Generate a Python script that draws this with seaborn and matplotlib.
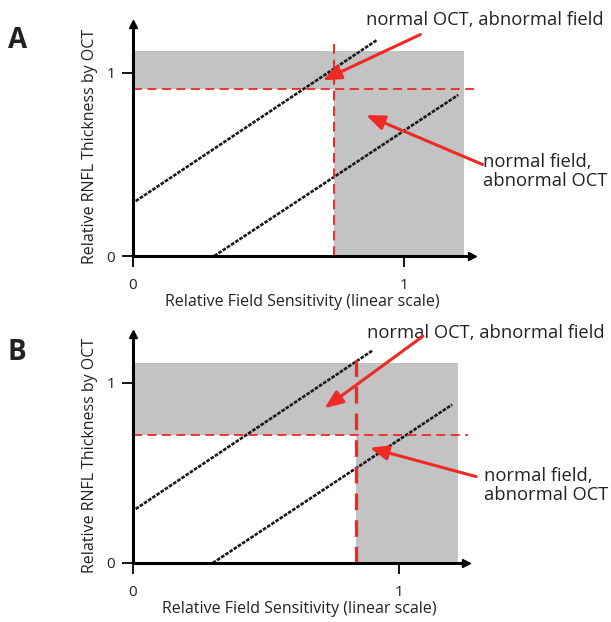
import numpy as np
import pandas as pd
import matplotlib
matplotlib.use("Agg")
import matplotlib.pyplot as plt
import seaborn as sns

sns.set_style("white")
plt.rcParams['font.family'] = ['Open Sans', 'DejaVu Sans']

# chart data
panels = ["A", "B"]
field_cutoff = [0.74, 0.84]     # vertical red dashed line
oct_cutoff = [0.91, 0.71]       # horizontal red dashed line
box_top = [1.12, 1.11]
box_right = [1.22, 1.22]
upper_x = [0.01, 0.90]
upper_y = [0.30, 1.18]
lower_x = [0.30, 1.20]
lower_y = [0.00, 0.88]
ticks = [0, 1]
label_oct = "normal OCT, abnormal field"
label_field = "normal field,\nabnormal OCT"

# annotation arrows (tail -> head) per panel
oct_arrow = [((1.06, 1.21), (0.70, 0.96)), ((1.09, 1.26), (0.72, 0.86))]
field_arrow = [((1.29, 0.50), (0.86, 0.77)), ((1.29, 0.48), (0.89, 0.64))]
oct_text_pos = [(0.86, 1.29), (0.88, 1.28)]
field_text_pos = [(1.29, 0.46), (1.32, 0.43)]
vline_lw = [1.4, 2.4]

RED = "#ee2a24"
GRAY = "#c3c3c3"
TXT = "#222222"

fig = plt.figure(figsize=(6.11, 6.22), dpi=100)
W, H = 611, 622
# axes placement in pixels: (x0 pixel, px per x unit, y0 pixel from top, px per y unit)
geom = [(133, 271, 256, 183), (133, 266, 563, 180)]
xlim = (-0.05, 1.3)
ylim = (-0.1, 1.3)

for i, name in enumerate(panels):
    x0, sx, y0, sy = geom[i]
    left = (x0 + xlim[0] * sx) / W
    width = (xlim[1] - xlim[0]) * sx / W
    bottom = (H - (y0 - ylim[0] * sy)) / H
    height = (ylim[1] - ylim[0]) * sy / H
    ax = fig.add_axes([left, bottom, width, height])
    ax.set_xlim(*xlim)
    ax.set_ylim(*ylim)

    fc, oc, bt, br = field_cutoff[i], oct_cutoff[i], box_top[i], box_right[i]
    # shaded "normal" areas
    ax.fill_between([0, br], [oc, oc], [bt, bt], color=GRAY, lw=0, zorder=0)
    ax.fill_between([fc, br], [0, 0], [oc, oc], color=GRAY, lw=0, zorder=0)

    df = pd.DataFrame({"x": upper_x + lower_x, "y": upper_y + lower_y,
                       "line": ["upper"] * 2 + ["lower"] * 2})
    sns.lineplot(data=df, x="x", y="y", units="line", estimator=None, ax=ax,
                 color="#1a1a1a", lw=1.9, linestyle=(0, (1.4, 0.5)), zorder=3)

    ax.plot([0, 1.26], [oc, oc], color=RED, lw=1.3, ls=(0, (5, 3)), zorder=4)
    ax.plot([fc, fc], [0, 1.18], color=RED, lw=vline_lw[i], ls=(0, (5, 3)), zorder=4)

    for spine in ["top", "right"]:
        ax.spines[spine].set_visible(False)
    for spine in ["left", "bottom"]:
        ax.spines[spine].set_position(("data", 0))
        ax.spines[spine].set_color("black")
        ax.spines[spine].set_linewidth(2.2)
        ax.spines[spine].set_zorder(5)
    ax.spines["left"].set_bounds(0, 1.25)
    ax.spines["bottom"].set_bounds(0, 1.24)
    ax.plot(1.25, 0, ">", color="black", ms=6, clip_on=False, zorder=6)
    ax.plot(0, 1.27, "^", color="black", ms=6, clip_on=False, zorder=6)

    ax.set_xticks(ticks)
    ax.set_yticks(ticks)
    ax.tick_params(axis="both", direction="out", length=8, width=1.3,
                   colors="black", labelsize=11, labelcolor=TXT)
    ax.tick_params(axis="x", pad=8, bottom=True)
    ax.tick_params(axis="y", pad=5, left=True)
    ax.set_xlabel("Relative Field Sensitivity (linear scale)", fontsize=11.5,
                  color=TXT)
    ax.set_ylabel("Relative RNFL Thickness by OCT", fontsize=11.5,
                  color=TXT, labelpad=6)
    ax.xaxis.set_label_coords(0.5, (0 - ylim[0]) / (ylim[1] - ylim[0]) - 0.15)

    (tx, ty), (hx, hy) = oct_arrow[i]
    ax.annotate("", xy=(hx, hy), xytext=(tx, ty),
                arrowprops=dict(arrowstyle="-|>,head_length=0.55,head_width=0.22",
                                color=RED, lw=2.2, mutation_scale=20,
                                shrinkA=0, shrinkB=0),
                annotation_clip=False, zorder=7)
    (tx, ty), (hx, hy) = field_arrow[i]
    ax.annotate("", xy=(hx, hy), xytext=(tx, ty),
                arrowprops=dict(arrowstyle="-|>,head_length=0.55,head_width=0.22",
                                color=RED, lw=2.2, mutation_scale=20,
                                shrinkA=0, shrinkB=0),
                annotation_clip=False, zorder=7)

    ax.text(*oct_text_pos[i], label_oct, fontsize=13.2, color=TXT,
            ha="left", va="center", clip_on=False)
    ax.text(*field_text_pos[i], label_field, fontsize=13.2, color=TXT,
            ha="left", va="center", linespacing=1.05, clip_on=False)

    fig.text(8 / W, 1 - (40 if i == 0 else 352) / H, name, fontsize=20,
             fontweight="bold", ha="left", va="center", color=TXT)

plt.savefig("out.png", dpi=100)
